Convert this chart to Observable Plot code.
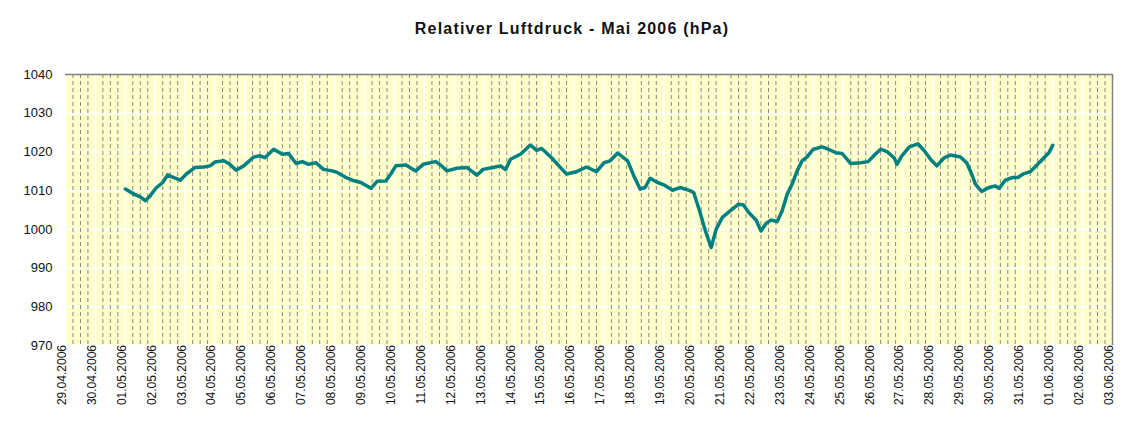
<!DOCTYPE html>
<html>
<head>
<meta charset="utf-8">
<script src="https://cdn.jsdelivr.net/npm/d3@7"></script>
<script src="https://cdn.jsdelivr.net/npm/@observablehq/plot@0.6"></script>
<style>
  body { margin: 0; background: #fff; width: 1144px; height: 437px; overflow: hidden; }
  #title { height: 50px; line-height: 58px; text-align: center; font-family: "Liberation Sans", Arial, sans-serif;
           font-weight: bold; font-size: 16px; letter-spacing: 1.2px; color: #111; }
</style>
</head>
<body>
<div id="title">Relativer Luftdruck - Mai 2006 (hPa)</div>
<div id="chart"></div>
<script>
const times = [
"2006-05-01 00","2006-05-01 07","2006-05-01 12","2006-05-01 16","2006-05-01 20",
"2006-05-02 01","2006-05-02 06","2006-05-02 10","2006-05-02 13","2006-05-02 20",
"2006-05-03 01","2006-05-03 08","2006-05-03 15","2006-05-03 20",
"2006-05-04 00","2006-05-04 07","2006-05-04 11","2006-05-04 17","2006-05-04 23",
"2006-05-05 07","2006-05-05 12","2006-05-05 16","2006-05-05 23",
"2006-05-06 06","2006-05-06 11","2006-05-06 17","2006-05-06 22",
"2006-05-07 03","2006-05-07 09","2006-05-07 15","2006-05-07 22",
"2006-05-08 02","2006-05-08 09","2006-05-08 14","2006-05-08 21",
"2006-05-09 05","2006-05-09 10","2006-05-09 17","2006-05-09 21",
"2006-05-10 01","2006-05-10 09","2006-05-10 17","2006-05-10 23",
"2006-05-11 09","2006-05-11 13","2006-05-11 18",
"2006-05-12 02","2006-05-12 10","2006-05-12 18","2006-05-12 23",
"2006-05-13 07","2006-05-13 13","2006-05-13 17","2006-05-13 21",
"2006-05-14 05","2006-05-14 13","2006-05-14 18","2006-05-14 22",
"2006-05-15 06","2006-05-15 13","2006-05-15 18",
"2006-05-16 02","2006-05-16 10","2006-05-16 18",
"2006-05-17 00","2006-05-17 05","2006-05-17 11","2006-05-17 19",
"2006-05-18 00","2006-05-18 05","2006-05-18 09","2006-05-18 13","2006-05-18 19",
"2006-05-19 00","2006-05-19 07","2006-05-19 13","2006-05-19 21",
"2006-05-20 00","2006-05-20 05","2006-05-20 09","2006-05-20 14","2006-05-20 18","2006-05-20 23",
"2006-05-21 05","2006-05-21 12","2006-05-21 16","2006-05-21 20",
"2006-05-22 02","2006-05-22 06","2006-05-22 10","2006-05-22 14","2006-05-22 19","2006-05-22 23",
"2006-05-23 03","2006-05-23 07","2006-05-23 11","2006-05-23 15","2006-05-23 19",
"2006-05-24 00","2006-05-24 07","2006-05-24 12","2006-05-24 18","2006-05-24 23",
"2006-05-25 06","2006-05-25 14","2006-05-25 20",
"2006-05-26 01","2006-05-26 06","2006-05-26 11","2006-05-26 17","2006-05-26 19","2006-05-26 23",
"2006-05-27 05","2006-05-27 12","2006-05-27 17","2006-05-27 22",
"2006-05-28 03","2006-05-28 09","2006-05-28 14","2006-05-28 22",
"2006-05-29 03","2006-05-29 07","2006-05-29 10","2006-05-29 15","2006-05-29 21",
"2006-05-30 02","2006-05-30 05","2006-05-30 10","2006-05-30 16","2006-05-30 20",
"2006-05-31 01","2006-05-31 06","2006-05-31 12","2006-05-31 17","2006-05-31 21",
"2006-06-01 00"];

const pressure = [
1010.4,1009.1,1008.4,1007.4,1008.7,
1010.8,1012.1,1014.1,1013.6,1012.7,
1014.3,1016.0,1016.1,1016.4,
1017.4,1017.7,1017.0,1015.3,1016.4,
1018.7,1019.0,1018.5,1020.7,
1019.4,1019.6,1017.0,1017.5,
1016.8,1017.2,1015.5,1015.1,
1014.7,1013.4,1012.7,1012.1,
1010.6,1012.4,1012.5,1014.3,
1016.4,1016.6,1015.1,1016.8,
1017.5,1016.6,1015.1,
1015.8,1016.0,1014.0,1015.5,
1016.0,1016.4,1015.4,1018.1,
1019.4,1021.8,1020.4,1020.9,
1018.5,1016.0,1014.3,
1014.9,1016.1,1014.9,
1017.2,1017.7,1019.7,1017.7,
1013.8,1010.4,1010.8,1013.2,1012.1,
1011.5,1010.1,1010.8,1010.0,
1009.5,1004.5,1000.0,995.3,1000.0,1003.1,
1004.7,1006.5,1006.3,1004.4,
1002.4,999.6,1001.5,1002.4,1002.0,1004.8,
1009.1,1011.7,1015.1,1017.7,1018.7,
1020.7,1021.3,1020.7,1019.8,1019.6,
1017.0,1017.2,1017.5,
1019.2,1020.7,1020.1,1018.4,1016.8,1019.0,
1021.3,1022.1,1020.3,1018.1,
1016.4,1018.5,1019.2,1018.7,
1017.2,1014.3,1011.7,1009.8,1010.8,
1011.2,1010.6,1012.7,1013.4,1013.4,
1014.4,1014.9,1016.8,1018.5,1019.8,
1021.7];

const xStart = "2006-04-29";
const xEnd = "2006-06-03";
const yTicks = [970, 980, 990, 1000, 1010, 1020, 1030, 1040];

const parse = d3.utcParse("%Y-%m-%d %H");
const parseDay = d3.utcParse("%Y-%m-%d");
const data = times.map((t, i) => ({time: parse(t), value: pressure[i]}));
const d0 = parseDay(xStart), d1 = parseDay(xEnd);
const dayTicks = d3.utcDay.range(d0, d3.utcDay.offset(d1, 1));
const minorTicks = d3.utcHour.every(6).range(d0, d1).filter(d => d.getUTCHours() !== 0);

const fontFam = "'Liberation Sans', Arial, sans-serif";

const chart = Plot.plot({
  width: 1144,
  height: 387,
  marginTop: 24,
  marginBottom: 92,
  marginLeft: 65,
  marginRight: 32,
  style: {fontFamily: fontFam, fontSize: "12px", color: "#111", background: "#fff"},
  x: {type: "utc", domain: [d0, d1], label: null},
  y: {domain: [970, 1040], label: null},
  marks: [
    Plot.frame({fill: "#FFFFCC", stroke: null}),
    Plot.ruleY(yTicks, {stroke: "#fff", strokeWidth: 1.5}),
    Plot.ruleX(dayTicks, {stroke: "#fff", strokeWidth: 1.5}),
    Plot.ruleX(minorTicks, {stroke: "#888", strokeWidth: 1, strokeDasharray: "4,3"}),
    Plot.line(data, {x: "time", y: "value", stroke: "#008080", strokeWidth: 3.5, strokeLinejoin: "round"}),
    Plot.ruleY([1040], {stroke: "#808080", strokeWidth: 1.5}),
    Plot.ruleX([d1], {stroke: "#808080", strokeWidth: 1.5}),
    Plot.axisY({ticks: yTicks, tickFormat: d3.format("d"), tickSize: 0, tickPadding: 13, fontSize: 13, label: null}),
    Plot.axisX({ticks: dayTicks, tickFormat: d3.utcFormat("%d.%m.%Y"), tickRotate: -90, tickSize: 0, tickPadding: 7, fontSize: 12, label: null})
  ]
});
const xl = chart.querySelector('g[aria-label="x-axis tick label"]');
if (xl) xl.setAttribute("transform", "translate(-3,0)");
document.getElementById("chart").appendChild(chart);
</script>
</body>
</html>
